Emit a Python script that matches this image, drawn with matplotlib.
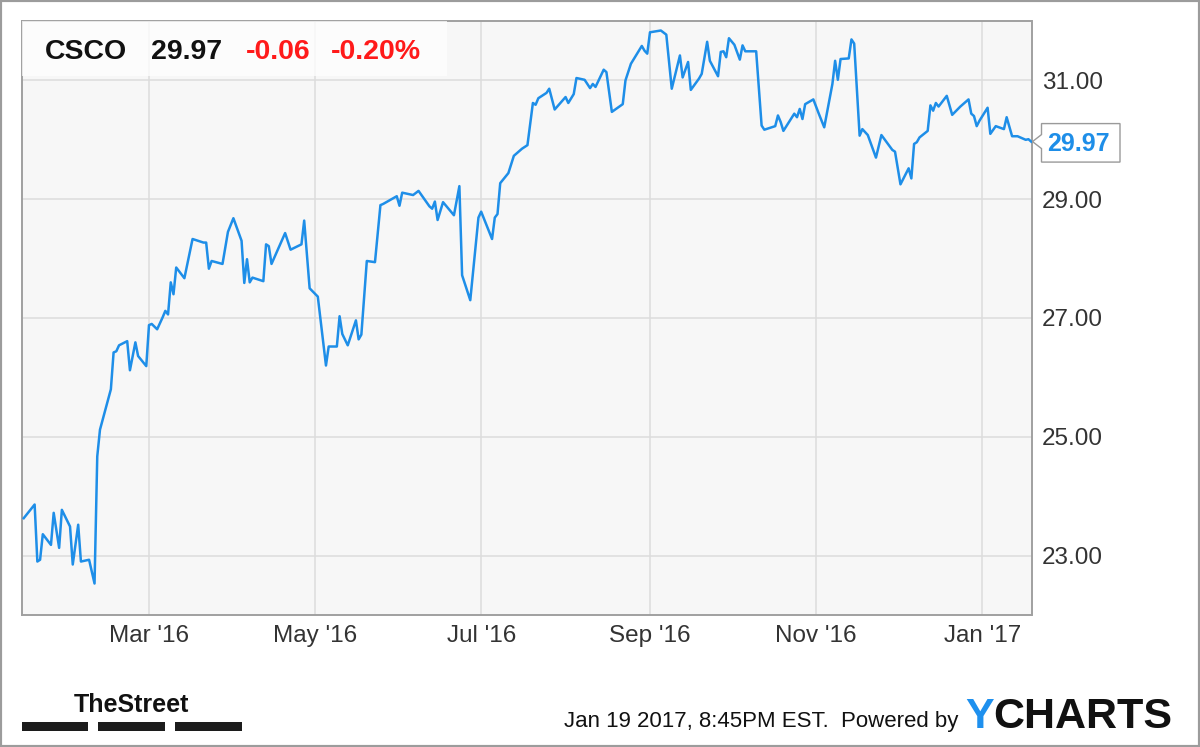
#!/usr/bin/env python3
"""Redraw the CSCO one-year YCharts price chart and save it as out.png."""

from datetime import datetime

import matplotlib

matplotlib.use("Agg")
import matplotlib.dates as mdates
import matplotlib.pyplot as plt
import matplotlib.transforms as mtransforms
from matplotlib.patches import Polygon, Rectangle
from matplotlib.ticker import FixedLocator, FormatStrFormatter

TICKER = "CSCO"
LAST_PRICE = 29.97
CHANGE = -0.06
CHANGE_PCT = -0.20
TIMESTAMP = "Jan 19 2017, 8:45PM EST."

# closing prices (vertices of the line)
DATES = [
    "2016-01-15", "2016-01-19", "2016-01-20", "2016-01-21", "2016-01-22",
    "2016-01-25", "2016-01-26", "2016-01-28", "2016-01-29", "2016-02-01",
    "2016-02-02", "2016-02-04", "2016-02-05", "2016-02-08", "2016-02-10",
    "2016-02-11", "2016-02-12", "2016-02-16", "2016-02-17", "2016-02-18",
    "2016-02-19", "2016-02-22", "2016-02-23", "2016-02-25", "2016-02-26",
    "2016-02-29", "2016-03-01", "2016-03-02", "2016-03-04", "2016-03-06",
    "2016-03-07", "2016-03-08", "2016-03-09", "2016-03-10", "2016-03-11",
    "2016-03-14", "2016-03-17", "2016-03-21", "2016-03-22", "2016-03-23",
    "2016-03-24", "2016-03-28", "2016-03-30", "2016-04-01", "2016-04-04",
    "2016-04-05", "2016-04-06", "2016-04-07", "2016-04-08", "2016-04-12",
    "2016-04-13", "2016-04-14", "2016-04-15", "2016-04-20", "2016-04-22",
    "2016-04-26", "2016-04-27", "2016-04-29", "2016-05-02", "2016-05-05",
    "2016-05-06", "2016-05-09", "2016-05-10", "2016-05-11", "2016-05-13",
    "2016-05-16", "2016-05-17", "2016-05-18", "2016-05-20", "2016-05-23",
    "2016-05-25", "2016-05-26", "2016-05-31", "2016-06-01", "2016-06-02",
    "2016-06-06", "2016-06-08", "2016-06-12", "2016-06-13", "2016-06-14",
    "2016-06-15", "2016-06-17", "2016-06-21", "2016-06-23", "2016-06-24",
    "2016-06-27", "2016-06-30", "2016-07-01", "2016-07-05", "2016-07-06",
    "2016-07-07", "2016-07-08", "2016-07-11", "2016-07-13", "2016-07-16",
    "2016-07-18", "2016-07-20", "2016-07-21", "2016-07-22", "2016-07-25",
    "2016-07-26", "2016-07-28", "2016-08-01", "2016-08-02", "2016-08-04",
    "2016-08-05", "2016-08-08", "2016-08-10", "2016-08-11", "2016-08-12",
    "2016-08-15", "2016-08-16", "2016-08-18", "2016-08-22", "2016-08-23",
    "2016-08-25", "2016-08-29", "2016-08-30", "2016-08-31", "2016-09-01",
    "2016-09-05", "2016-09-07", "2016-09-09", "2016-09-12", "2016-09-13",
    "2016-09-15", "2016-09-16", "2016-09-19", "2016-09-20", "2016-09-22",
    "2016-09-23", "2016-09-26", "2016-09-27", "2016-09-28", "2016-09-29",
    "2016-09-30", "2016-10-02", "2016-10-04", "2016-10-05", "2016-10-06",
    "2016-10-10", "2016-10-12", "2016-10-13", "2016-10-17", "2016-10-18",
    "2016-10-19", "2016-10-20", "2016-10-24", "2016-10-25", "2016-10-26",
    "2016-10-27", "2016-10-28", "2016-10-31", "2016-11-02", "2016-11-04",
    "2016-11-07", "2016-11-08", "2016-11-09", "2016-11-10", "2016-11-13",
    "2016-11-14", "2016-11-15", "2016-11-17", "2016-11-18", "2016-11-20",
    "2016-11-23", "2016-11-25", "2016-11-29", "2016-11-30", "2016-12-02",
    "2016-12-05", "2016-12-06", "2016-12-07", "2016-12-08", "2016-12-09",
    "2016-12-12", "2016-12-13", "2016-12-14", "2016-12-15", "2016-12-16",
    "2016-12-19", "2016-12-21", "2016-12-24", "2016-12-27", "2016-12-28",
    "2016-12-29", "2016-12-30", "2016-12-31", "2017-01-03", "2017-01-04",
    "2017-01-06", "2017-01-09", "2017-01-10", "2017-01-12", "2017-01-14",
    "2017-01-17", "2017-01-18", "2017-01-19",
]
PRICES = [
    23.63, 23.86, 22.90, 22.93, 23.36,
    23.18, 23.72, 23.13, 23.77, 23.49,
    22.85, 23.52, 22.90, 22.93, 22.53,
    24.67, 25.12, 25.80, 26.42, 26.44,
    26.54, 26.61, 26.12, 26.59, 26.36,
    26.19, 26.88, 26.90, 26.81, 27.01,
    27.12, 27.06, 27.60, 27.40, 27.85,
    27.67, 28.33, 28.27, 28.27, 27.83,
    27.96, 27.91, 28.45, 28.68, 28.30,
    27.59, 27.99, 27.60, 27.68, 27.62,
    28.24, 28.21, 27.91, 28.43, 28.15,
    28.24, 28.64, 27.50, 27.36, 26.20,
    26.52, 26.52, 27.03, 26.73, 26.54,
    26.96, 26.64, 26.72, 27.96, 27.94,
    28.90, 28.92, 29.05, 28.89, 29.11,
    29.07, 29.14, 28.88, 28.84, 28.96,
    28.65, 28.95, 28.73, 29.22, 27.72,
    27.30, 28.69, 28.79, 28.33, 28.69,
    28.75, 29.27, 29.44, 29.73, 29.85,
    29.91, 30.62, 30.59, 30.70, 30.79,
    30.86, 30.51, 30.72, 30.62, 30.77,
    31.04, 31.01, 30.87, 30.94, 30.89,
    31.18, 31.14, 30.47, 30.60, 31.00,
    31.28, 31.58, 31.50, 31.45, 31.81,
    31.84, 31.77, 30.86, 31.42, 31.05,
    31.31, 30.84, 31.03, 31.11, 31.65,
    31.33, 31.07, 31.48, 31.49, 31.39,
    31.71, 31.60, 31.35, 31.59, 31.49,
    31.49, 30.24, 30.17, 30.23, 30.41,
    30.30, 30.15, 30.44, 30.38, 30.52,
    30.35, 30.60, 30.68, 30.44, 30.21,
    30.94, 31.33, 31.01, 31.36, 31.37,
    31.69, 31.62, 30.07, 30.18, 30.08,
    29.70, 30.08, 29.83, 29.80, 29.25,
    29.52, 29.35, 29.93, 29.96, 30.04,
    30.15, 30.58, 30.49, 30.62, 30.56,
    30.74, 30.42, 30.56, 30.68, 30.44,
    30.40, 30.23, 30.32, 30.54, 30.10,
    30.23, 30.18, 30.38, 30.06, 30.06,
    30.00, 30.01, 29.97,
]

Y_TICKS = [23, 25, 27, 29, 31]
Y_RANGE = (22.0, 32.0)
X_RANGE = ("2016-01-14 06:00", "2017-01-19 03:00")

FIG_W, FIG_H = 1200, 747
LINE_COLOR = "#1e8ee8"
PLOT_BG = "#f7f7f7"
GRID_COLOR = "#dcdcdc"
SPINE_COLOR = "#a0a0a0"
LABEL_COLOR = "#333333"
DOWN_COLOR = "#ff1a1a"


def fx(x):
    return x / FIG_W


def fy(y):
    return 1 - y / FIG_H


def draw_price_panel(fig, ax):
    dates = [datetime.strptime(d, "%Y-%m-%d") for d in DATES]
    ax.plot(dates, PRICES, color=LINE_COLOR, lw=1.8, zorder=3)

    ax.set_facecolor(PLOT_BG)
    ax.set_xlim(datetime.fromisoformat(X_RANGE[0]), datetime.fromisoformat(X_RANGE[1]))
    ax.set_ylim(*Y_RANGE)

    ax.xaxis.set_major_locator(mdates.MonthLocator(bymonth=[1, 3, 5, 7, 9, 11]))
    ax.xaxis.set_major_formatter(mdates.DateFormatter("%b '%y"))
    ax.yaxis.set_major_locator(FixedLocator(Y_TICKS))
    ax.yaxis.set_major_formatter(FormatStrFormatter("%.2f"))
    ax.yaxis.tick_right()

    ax.tick_params(axis="x", length=0, pad=7, labelsize=17.5, colors=LABEL_COLOR)
    ax.tick_params(axis="y", length=0, pad=7.5, labelsize=17.5, colors=LABEL_COLOR)
    ax.grid(True, color=GRID_COLOR, lw=1.1, zorder=1)
    ax.set_axisbelow(True)
    for spine in ax.spines.values():
        spine.set_color(SPINE_COLOR)
        spine.set_linewidth(1.4)

    # last price flag sitting on the right edge of the plot
    anchor = mtransforms.blended_transform_factory(ax.transAxes, ax.transData)
    flag_tr = fig.dpi_scale_trans + mtransforms.ScaledTranslation(1.0, LAST_PRICE, anchor)
    flag = Polygon(
        [(0.01, 0.0), (0.10, 0.07), (0.10, 0.18), (0.885, 0.18),
         (0.885, -0.205), (0.10, -0.205), (0.10, -0.07)],
        closed=True, transform=flag_tr, facecolor="white",
        edgecolor="#9a9a9a", lw=1.0, clip_on=False, zorder=5,
    )
    ax.add_patch(flag)
    ax.annotate(
        f"{LAST_PRICE:.2f}", xy=(1.0, LAST_PRICE), xycoords=anchor,
        xytext=(34, -1.5), textcoords="offset points", ha="center", va="center",
        fontsize=18, fontweight="bold", color=LINE_COLOR, zorder=6,
        annotation_clip=False,
    )


def draw_header(fig):
    fig.patches.append(Rectangle(
        (fx(22), fy(76)), fx(447) - fx(22), fy(21) - fy(76),
        transform=fig.transFigure, facecolor="white", alpha=0.75,
        edgecolor="none", zorder=2,
    ))
    base = fy(59)
    kw = dict(fontsize=20.5, fontweight="bold", va="baseline", ha="left", zorder=3)
    fig.text(fx(45), base, TICKER, color="#111111", **kw)
    fig.text(fx(151), base, f"{LAST_PRICE:.2f}", color="#111111", **kw)
    fig.text(fx(246), base, f"{CHANGE:.2f}", color=DOWN_COLOR, **kw)
    fig.text(fx(331), base, f"{CHANGE_PCT:.2f}%", color=DOWN_COLOR, **kw)


def draw_footer(fig):
    fig.text(
        fx(131), fy(712), "TheStreet", ha="center", va="baseline",
        fontsize=18, fontweight="bold", color="#111111",
    )
    for x0, x1 in [(22, 88), (98, 165), (175, 242)]:
        fig.patches.append(Rectangle(
            (fx(x0), fy(731)), fx(x1) - fx(x0), fy(722) - fy(731),
            transform=fig.transFigure, facecolor="#1c1c1c", edgecolor="none",
        ))

    fig.text(
        fx(958), fy(727), f"{TIMESTAMP}  Powered by", ha="right", va="baseline",
        fontsize=16, color="#111111",
    )
    y_txt = fig.text(
        fx(965), fy(728), "Y", ha="left", va="baseline",
        fontsize=31, fontweight="bold", color="#1e90ee",
    )
    renderer = fig.canvas.get_renderer()
    bb = y_txt.get_window_extent(renderer=renderer)
    x_next = fig.transFigure.inverted().transform((bb.x1, 0))[0]
    fig.text(
        x_next, fy(728), "CHARTS", ha="left", va="baseline",
        fontsize=31, fontweight="bold", color="#111111",
    )

    fig.patches.append(Rectangle(
        (0, 0), 1, 1, transform=fig.transFigure, fill=False,
        edgecolor="#9c9c9c", lw=3, zorder=10,
    ))


def main() -> int:
    plt.rcParams["font.family"] = ["Liberation Sans", "DejaVu Sans"]
    fig = plt.figure(figsize=(FIG_W / 100, FIG_H / 100), dpi=100)
    fig.patch.set_facecolor("white")
    ax = fig.add_axes([fx(21.7), fy(615), (1031.5 - 21.7) / FIG_W, (615 - 21) / FIG_H])

    draw_price_panel(fig, ax)
    draw_header(fig)
    draw_footer(fig)

    fig.savefig("out.png", dpi=100)
    plt.close(fig)
    return 0


if __name__ == "__main__":
    raise SystemExit(main())
